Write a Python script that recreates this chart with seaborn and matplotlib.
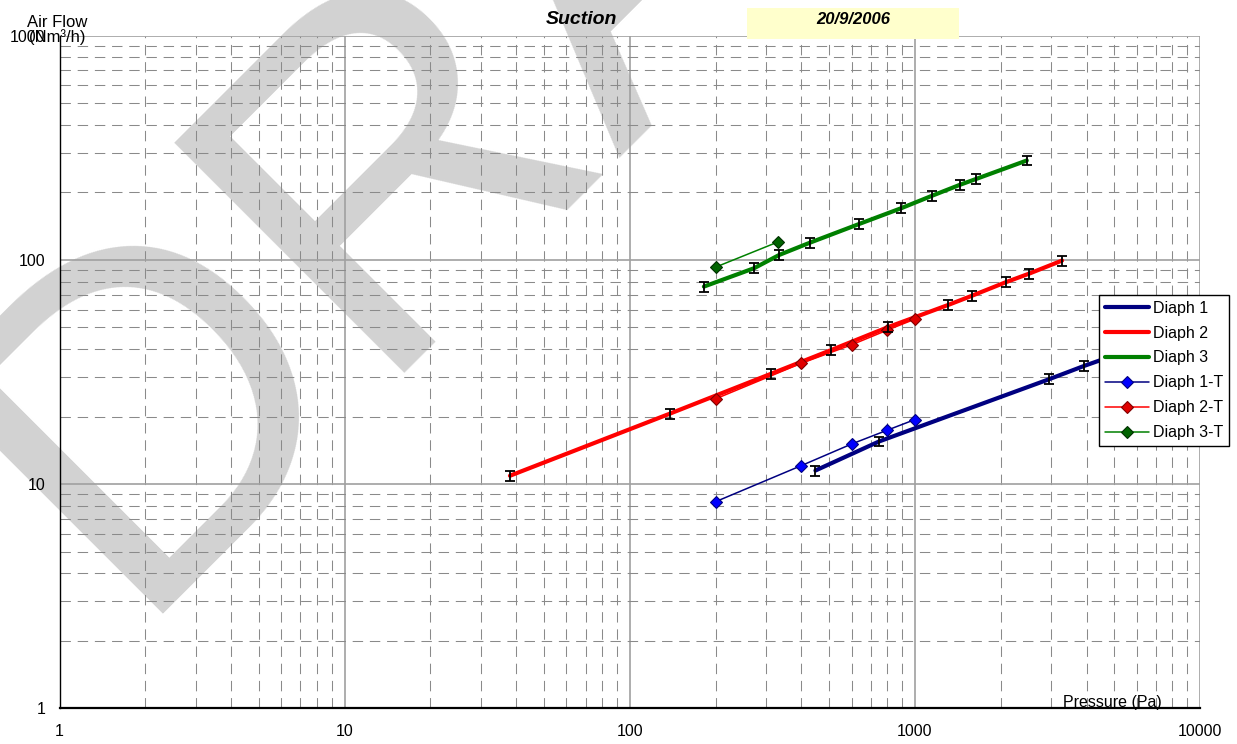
import matplotlib
matplotlib.use("Agg")
import matplotlib.pyplot as plt
from matplotlib.ticker import FixedLocator, FixedFormatter, LogLocator, NullFormatter
import seaborn as sns
import pandas as pd

# ---------------- data ----------------
d1_p = [448, 749, 2964, 3932, 5000]
d1_q = [11.5, 15.5, 29.4, 33.7, 37.5]

d2_p = [38, 138, 312, 508, 804, 1311, 1591, 2084, 2521, 3283]
d2_q = [10.9, 20.6, 31.0, 39.6, 50.1, 63.0, 69.3, 79.5, 86.9, 99.3]

d3_p = [182, 273, 335, 430, 639, 897, 1147, 1437, 1643, 2469]
d3_q = [76.0, 91.8, 105.3, 119.5, 144.7, 170.1, 193.0, 216.0, 229.7, 277.4]

t_p = [200, 400, 600, 800, 1000]
t1_q = [8.35, 12.1, 15.1, 17.4, 19.4]
t2_q = [24.0, 34.6, 41.8, 48.6, 54.4]
t3_p = [200, 330]
t3_q = [92.8, 120.0]

err_pct = 5.0  # error bar half-size, percent of value

x_ticks = [1, 10, 100, 1000, 10000]
x_tick_labels = ["1", "10", "100", "1000", "10000"]
y_ticks = [1, 10, 100, 1000]
y_tick_labels = ["1", "10", "100", "1000"]

labels = ["Diaph 1", "Diaph 2", "Diaph 3", "Diaph 1-T", "Diaph 2-T", "Diaph 3-T"]

# ---------------- style ----------------
sns.set_style("white")
plt.rcParams["font.family"] = ["Liberation Sans", "DejaVu Sans"]
plt.rcParams["text.color"] = "black"
plt.rcParams["xtick.color"] = "black"
plt.rcParams["ytick.color"] = "black"
plt.rcParams["axes.labelcolor"] = "black"

W, H = 1237, 744
fig = plt.figure(figsize=(W / 100, H / 100), dpi=100)
ax = fig.add_axes([59.5 / W, 1 - 708.4 / H, (1200 - 59.5) / W, (708.4 - 35.6) / H])
ax.patch.set_visible(False)

# watermark
fig.text(124 / W, 1 - 614 / H, "DRAFT", fontsize=341, color="#d2d2d2",
         rotation=45, rotation_mode="anchor", ha="left", va="baseline",
         zorder=-1, family="Liberation Sans")

ax.set_xscale("log")
ax.set_yscale("log")
ax.set_xlim(1, 10000)
ax.set_ylim(1, 1000)

fit_sets = [(d1_p, d1_q, "#000080"), (d2_p, d2_q, "#ff0000"), (d3_p, d3_q, "#008000")]
handles = []
for (p, q, c), lab in zip(fit_sets, labels[:3]):
    df = pd.DataFrame({"p": p, "q": q})
    sns.lineplot(data=df, x="p", y="q", ax=ax, color=c, linewidth=3.0,
                 sort=False, estimator=None, label=lab, zorder=4, legend=False)
    handles.append(ax.lines[-1])

for p, q, c in fit_sets:
    err = [v * err_pct / 100 for v in q]
    ax.errorbar(p, q, yerr=err, fmt="none", ecolor="black", elinewidth=1.3,
                capsize=3.3, capthick=1.3, zorder=6)

t_sets = [(t_p, t1_q, "#000080", "#0000ff", "#000080"),
          (t_p, t2_q, "#ff0000", "#e00000", "#800000"),
          (t3_p, t3_q, "#008000", "#006400", "#003000")]
for (p, q, lc, fc, ec), lab in zip(t_sets, labels[3:]):
    df = pd.DataFrame({"p": p, "q": q})
    sns.lineplot(data=df, x="p", y="q", ax=ax, color=lc, linewidth=1.1,
                 marker="D", markersize=6.5, markerfacecolor=fc, markeredgecolor=ec,
                 markeredgewidth=0.8, sort=False, estimator=None, label=lab,
                 zorder=5, legend=False)
    handles.append(ax.lines[-1])

# grid
ax.xaxis.set_minor_locator(LogLocator(base=10, subs=range(2, 10), numticks=20))
ax.yaxis.set_minor_locator(LogLocator(base=10, subs=range(2, 10), numticks=20))
ax.xaxis.set_minor_formatter(NullFormatter())
ax.yaxis.set_minor_formatter(NullFormatter())
ax.grid(True, which="major", color="#a0a0a0", linewidth=1.2, linestyle="-", zorder=1)
ax.grid(True, which="minor", color="#8a8a8a", linewidth=0.75, linestyle=(0, (10, 6.5)), zorder=1)
ax.set_axisbelow(True)

ax.xaxis.set_major_locator(FixedLocator(x_ticks))
ax.xaxis.set_major_formatter(FixedFormatter(x_tick_labels))
ax.yaxis.set_major_locator(FixedLocator(y_ticks))
ax.yaxis.set_major_formatter(FixedFormatter(y_tick_labels))
ax.tick_params(axis="both", which="minor", length=0)
ax.tick_params(axis="x", which="major", length=4, width=1, color="black",
               labelcolor="black", direction="out", pad=7, labelsize=11.5)
ax.tick_params(axis="y", which="major", length=4, width=1, color="black",
               labelcolor="black", direction="out", pad=6, labelsize=11.5)
ax.set_xlabel("")
ax.set_ylabel("")

for s in ["top", "right"]:
    ax.spines[s].set_visible(False)
for s in ["left", "bottom"]:
    ax.spines[s].set_visible(True)
    ax.spines[s].set_color("black")
ax.spines["left"].set_linewidth(1.0)
ax.spines["bottom"].set_linewidth(1.6)

# legend
leg = ax.legend(handles, labels, loc="upper left", bbox_to_anchor=(0.9114, 0.6144),
                borderaxespad=0, fontsize=11.5, frameon=True, fancybox=False,
                edgecolor="black", framealpha=1, handlelength=2.8, handletextpad=0.25,
                labelspacing=0.62, borderpad=0.35, labelcolor="black")
leg.get_frame().set_linewidth(1.0)
leg.set_zorder(20)

# texts
fig.text(57 / W, 1 - 30 / H, "Air Flow\n(Nm³/h)", ha="center", va="center",
         fontsize=12, linespacing=1.0, color="black")
fig.text(1063 / W, 1 - 703 / H, "Pressure (Pa)", ha="left", va="center",
         fontsize=11.5, color="black")
fig.text(581 / W, 1 - 20 / H, "Suction", ha="center", va="center", fontsize=14,
         fontweight="bold", fontstyle="italic", color="black")
fig.patches.append(matplotlib.patches.Rectangle((747 / W, 1 - 39 / H), (959 - 747) / W, 31 / H,
                   transform=fig.transFigure, facecolor="#ffffcc", edgecolor="none", zorder=1))
fig.text(853 / W, 1 - 20 / H, "20/9/2006", ha="center", va="center", fontsize=12,
         fontweight="bold", fontstyle="italic", zorder=2, color="black")

fig.savefig("out.png", dpi=100)
